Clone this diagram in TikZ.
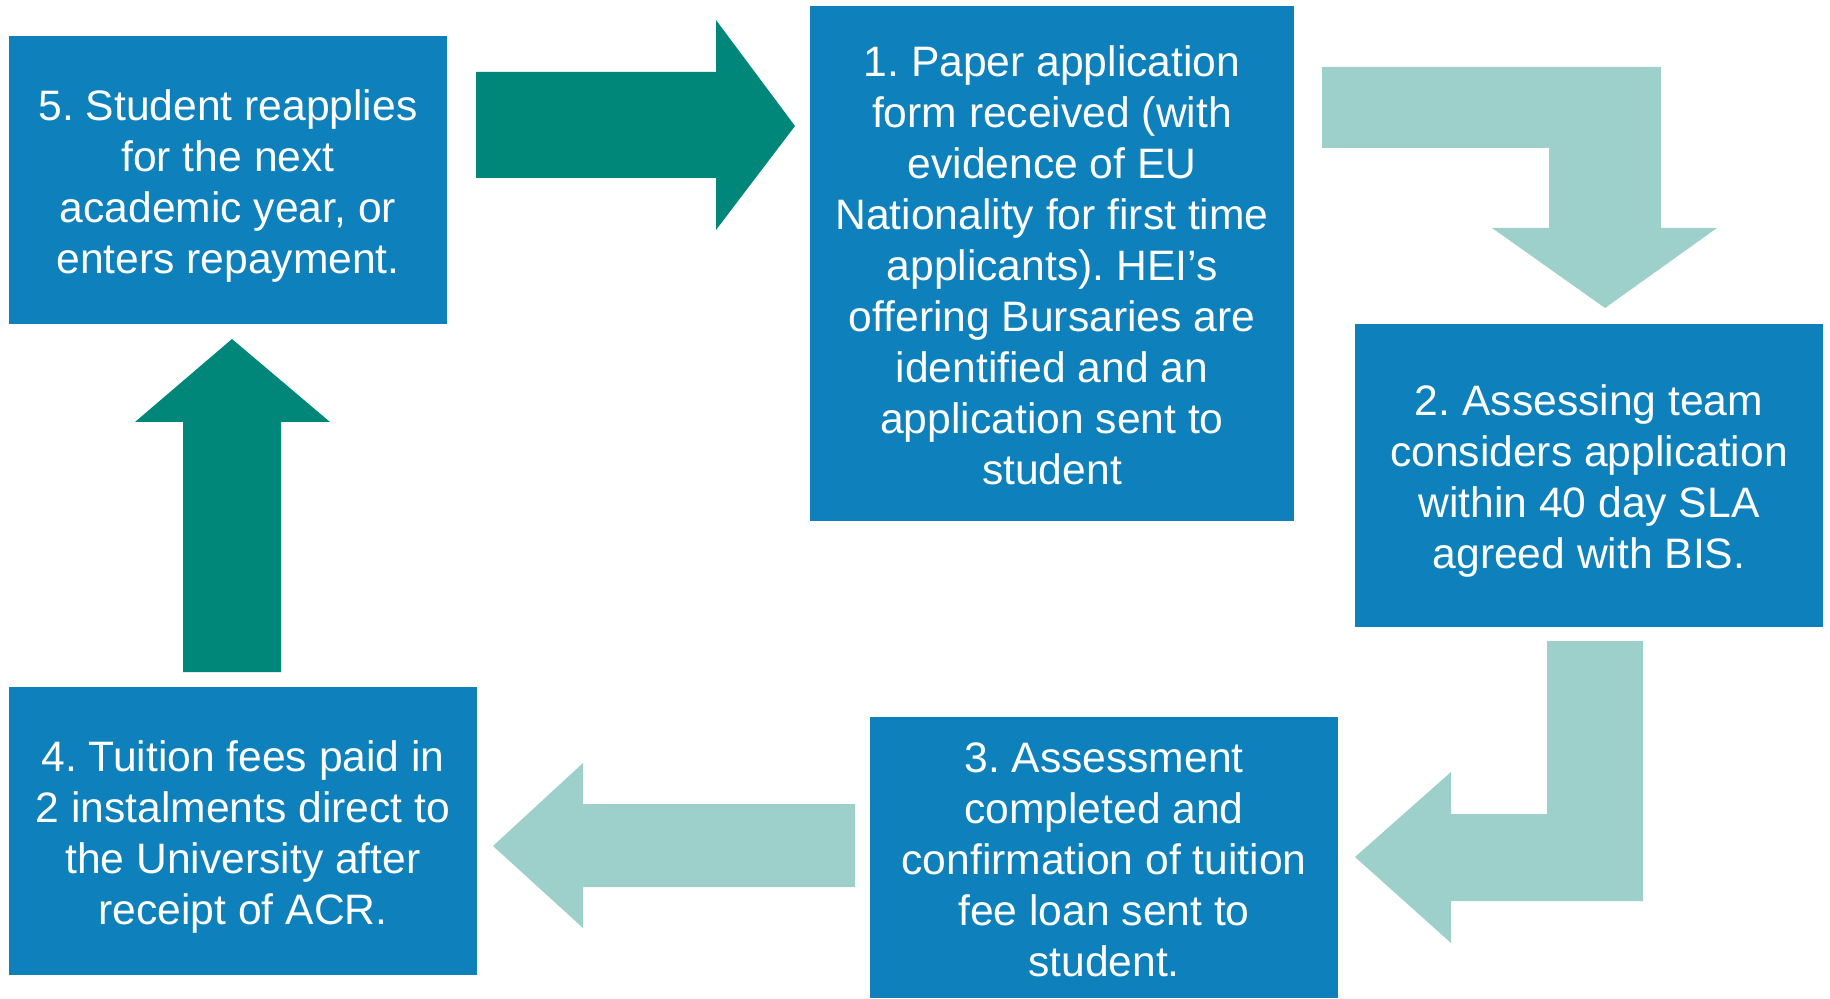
\documentclass[tikz,border=0pt]{standalone}
\usepackage{fontspec}
\setmainfont{Liberation Sans}
\frenchspacing
\definecolor{boxblue}{RGB}{14,129,188}
\definecolor{darkteal}{RGB}{0,135,122}
\definecolor{lightteal}{RGB}{157,207,203}
\newcommand\topstrut{\rule{0pt}{21pt}}
\newcommand\botstrut{\rule[-4pt]{0pt}{4pt}}
\begin{document}
\begin{tikzpicture}[x=0.5pt,y=-0.5pt,
  stepbox/.style={fill=boxblue, text=white, align=center, inner sep=0pt,
    font=\fontsize{21.3pt}{25.5pt}\selectfont},
  darkarrow/.style={fill=darkteal},
  lightarrow/.style={fill=lightteal}]
\useasboundingbox (0,0) rectangle (1830,999);
\node[stepbox, minimum width=219pt, minimum height=144pt] (b5) at (228,180)
  {\topstrut 5. Student reapplies\\for the next\\academic year, or\\enters repayment.\botstrut};
\node[stepbox, minimum width=242pt, minimum height=257.5pt] (b1) at (1052,263.5)
  {\topstrut 1. Paper application\\form received (with\\evidence of EU\\Nationality for first time\\applicants). HEI’s\\offering Bursaries are\\identified and an\\application sent to\\student\botstrut};
\node[stepbox, minimum width=234pt, minimum height=151.5pt] (b2) at (1589,475.5)
  {\topstrut 2. Assessing team\\considers application\\within 40 day SLA\\agreed with BIS.\botstrut};
\node[stepbox, minimum width=234pt, minimum height=140.5pt] (b3) at (1104,857.5)
  {\topstrut 3. Assessment\\completed and\\confirmation of tuition\\fee loan sent to\\student.\botstrut};
\node[stepbox, minimum width=234pt, minimum height=144pt] (b4) at (243,831)
  {\topstrut 4. Tuition fees paid in\\2 instalments direct to\\the University after\\receipt of ACR.\botstrut};
% 5 -> 1
\fill[darkarrow] (476,72) -- (716,72) -- (716,20) -- (795,126) -- (716,230) -- (716,178) -- (476,178) -- cycle;
% 1 -> 2
\fill[lightarrow] (1322,67) -- (1661,67) -- (1661,228) -- (1717,228) -- (1605,308) -- (1492,228) -- (1549,228) -- (1549,148) -- (1322,148) -- cycle;
% 2 -> 3
\fill[lightarrow] (1547,641) -- (1643,641) -- (1643,901) -- (1451,901) -- (1451,943) -- (1355,857) -- (1451,772) -- (1451,814) -- (1547,814) -- cycle;
% 3 -> 4
\fill[lightarrow] (855,804) -- (855,887) -- (583,887) -- (583,928) -- (493,846) -- (583,763) -- (583,804) -- cycle;
% 4 -> 5
\fill[darkarrow] (183,672) -- (183,422) -- (135,422) -- (232,339) -- (330,422) -- (281,422) -- (281,672) -- cycle;
\end{tikzpicture}
\end{document}
